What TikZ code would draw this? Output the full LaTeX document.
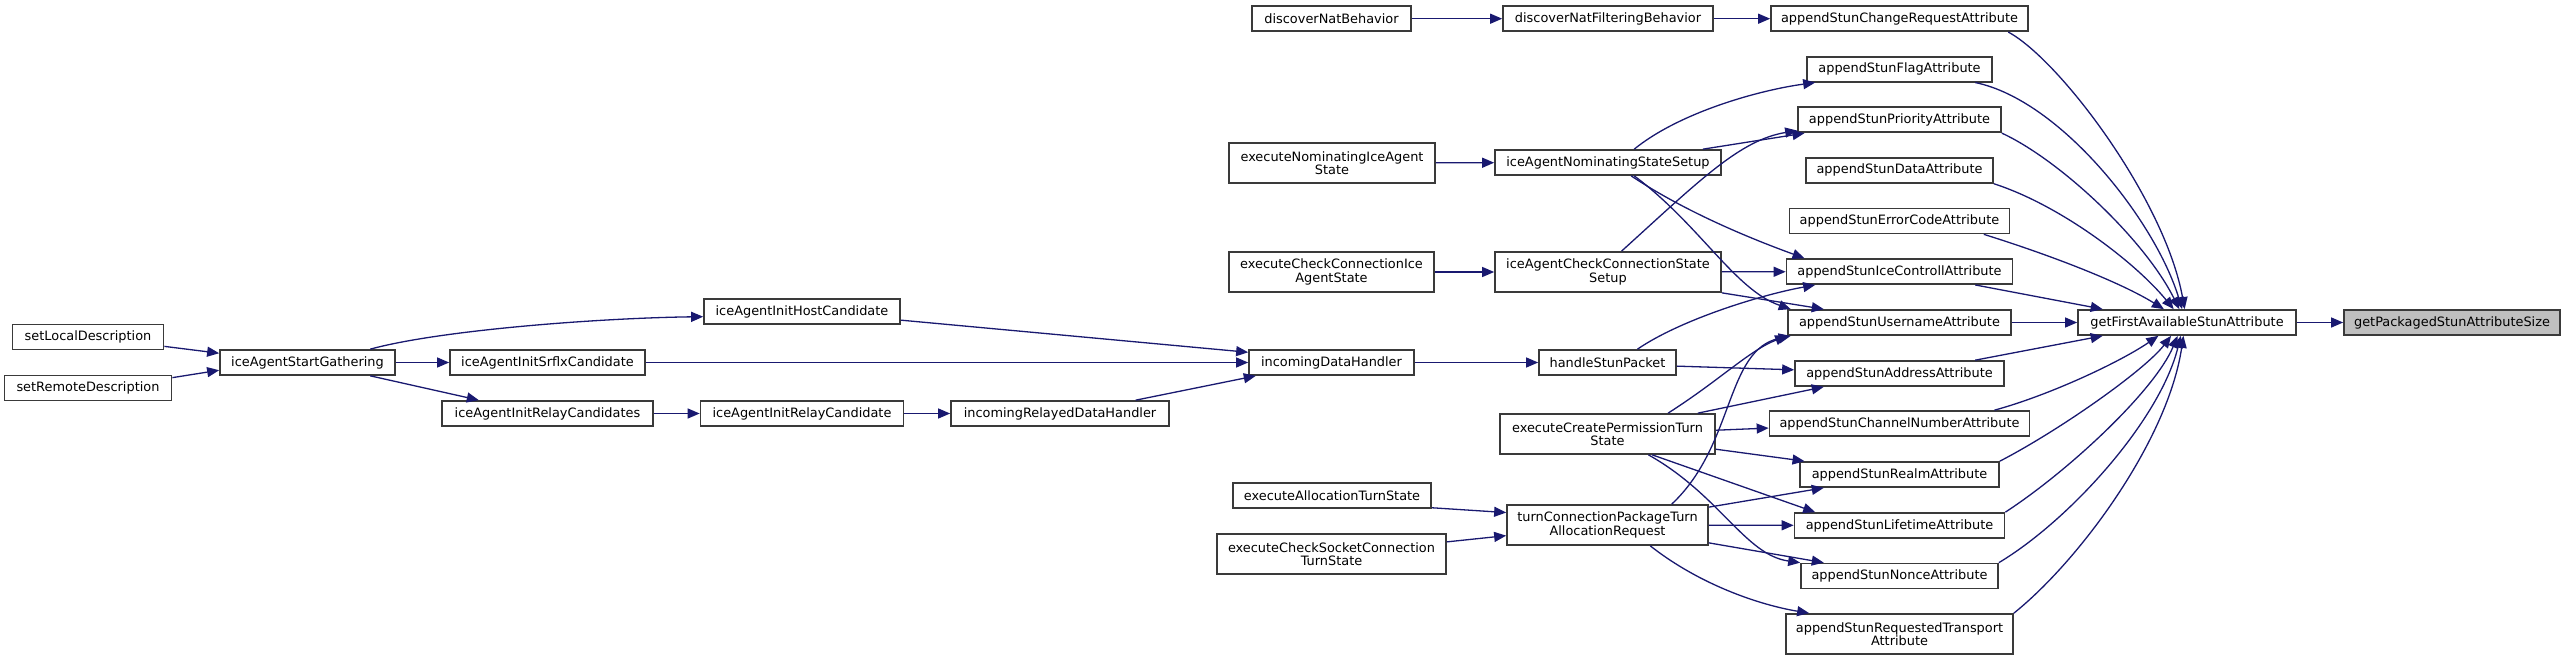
\documentclass[tikz,border=0pt]{standalone}
\usepackage{fontspec}
\setmainfont{DejaVu Sans}
\usetikzlibrary{arrows.meta}
\definecolor{navy}{HTML}{191970}
\definecolor{bord}{HTML}{3A3A3A}
\definecolor{tgt}{HTML}{BFBFBF}
\newcommand{\dgfont}{\fontsize{12.9}{13.6}\selectfont}
\begin{document}
\begin{tikzpicture}[x=1pt,y=-1pt,
  fn/.style={draw=bord, line width=1.7pt, fill=white, inner sep=0pt, align=center, font=\dgfont, minimum height=25pt},
  fntwo/.style={fn, minimum height=40pt},
  call/.style={draw=navy, line width=1.3pt, -{Triangle[length=12pt,width=10pt]}}]
\fill[white] (0,0) rectangle (2567,661);
\useasboundingbox (0,0) rectangle (2567,661);
% column 0
\node[fn, minimum width=151pt] (sld) at (88,337) {setLocalDescription};
\node[fn, minimum width=167pt] (srd) at (88,388) {setRemoteDescription};
% column 1
\node[fn, minimum width=175pt] (iasg) at (307.5,362.5) {iceAgentStartGathering};
% column 2
\node[fn, minimum width=195pt] (iaisc) at (547.5,362.5) {iceAgentInitSrflxCandidate};
\node[fn, minimum width=211pt] (iairc) at (547.5,413.5) {iceAgentInitRelayCandidates};
% column 3
\node[fn, minimum width=196pt] (iaihc) at (802,311.5) {iceAgentInitHostCandidate};
\node[fn, minimum width=203pt] (iaircd) at (802,413.5) {iceAgentInitRelayCandidate};
% column 4
\node[fn, minimum width=218pt] (irdh) at (1060,413.5) {incomingRelayedDataHandler};
% column 5
\node[fn, minimum width=159pt] (dnb) at (1331.5,18.7) {discoverNatBehavior};
\node[fntwo, minimum width=206pt] (eniaas) at (1332,163) {executeNominatingIceAgent\\State};
\node[fntwo, minimum width=205pt] (ecciaas) at (1331.5,272) {executeCheckConnectionIce\\AgentState};
\node[fn, minimum width=165pt] (idh) at (1331.5,362.5) {incomingDataHandler};
\node[fn, minimum width=198pt] (eats) at (1332,495.5) {executeAllocationTurnState};
\node[fntwo, minimum width=229pt] (ecsctst) at (1331.5,554) {executeCheckSocketConnection\\TurnState};
% column 6
\node[fn, minimum width=210pt] (dnfb) at (1608,18.7) {discoverNatFilteringBehavior};
\node[fn, minimum width=226pt] (ians) at (1608,162.5) {iceAgentNominatingStateSetup};
\node[fntwo, minimum width=226pt] (iccss) at (1608,272) {iceAgentCheckConnectionState\\Setup};
\node[fn, minimum width=137pt] (hsp) at (1607.5,362.5) {handleStunPacket};
\node[fntwo, minimum width=215pt] (ecpts) at (1607.5,434) {executeCreatePermissionTurn\\State};
\node[fntwo, minimum width=201pt] (tcptar) at (1607.5,525) {turnConnectionPackageTurn\\AllocationRequest};
% column 7
\node[fn, minimum width=257pt] (ascr) at (1899.5,18.7) {appendStunChangeRequestAttribute};
\node[fn, minimum width=185pt] (flag) at (1899.5,69.2) {appendStunFlagAttribute};
\node[fn, minimum width=203pt] (prio) at (1899.5,119.8) {appendStunPriorityAttribute};
\node[fn, minimum width=187pt] (data) at (1899.5,170.4) {appendStunDataAttribute};
\node[fn, minimum width=220pt] (erc) at (1899.5,221) {appendStunErrorCodeAttribute};
\node[fn, minimum width=226pt] (isic) at (1899.5,271.6) {appendStunIceControllAttribute};
\node[fn, minimum width=223pt] (usn) at (1899.5,322.5) {appendStunUsernameAttribute};
\node[fn, minimum width=209pt] (addr) at (1899.5,373.5) {appendStunAddressAttribute};
\node[fn, minimum width=260pt] (chn) at (1899.5,423.5) {appendStunChannelNumberAttribute};
\node[fn, minimum width=199pt] (realm) at (1899.5,474.5) {appendStunRealmAttribute};
\node[fn, minimum width=210pt] (life) at (1899.5,525.5) {appendStunLifetimeAttribute};
\node[fn, minimum width=197pt] (nonce) at (1899.5,576) {appendStunNonceAttribute};
\node[fntwo, minimum width=227pt] (rta) at (1899.5,634) {appendStunRequestedTransport\\Attribute};
% column 8, 9
\node[fn, minimum width=218pt] (gfa) at (2187,322.5) {getFirstAvailableStunAttribute};
\node[fn, minimum width=216pt, fill=tgt] (gpsas) at (2452,322.5) {getPackagedStunAttributeSize};

% edges, left part
\draw[call] (sld.-7) -- (iasg.174);
\draw[call] (srd.7) -- (iasg.185);
\draw[call] (iasg.12) .. controls (440,330) and (600,318) .. (iaihc.183);
\draw[call] (iasg) -- (iaisc);
\draw[call] (iasg.-12) -- (iairc.169);
\draw[call] (iaihc.-5) -- (idh.173);
\draw[call] (iaisc) -- (idh);
\draw[call] (iairc) -- (iaircd);
\draw[call] (iaircd) -- (irdh);
\draw[call] (irdh.10) -- (idh.190);
\draw[call] (idh) -- (hsp);
\draw[call] (dnb) -- (dnfb);
\draw[call] (dnfb) -- (ascr);
\draw[call] (eniaas) -- (ians);
\draw[call] (ecciaas) -- (iccss);
\draw[call] (eats.-7) -- (tcptar.173);
\draw[call] (ecsctst.6) -- (tcptar.186);

% edges into the append column
\draw[call] (ians.27) .. controls (1680,112) and (1760,90) .. (flag.189);
\draw[call] (ians.8) -- (prio.188);
\draw[call] (ians.-30) .. controls (1690,215) and (1760,242) .. (isic.172);
\draw[call] (ians.-27) .. controls (1700,225) and (1735,290) .. (usn.173);
\draw[call] (iccss.57) .. controls (1700,180) and (1740,140) .. (prio.186);
\draw[call] (iccss) -- (isic);
\draw[call] (iccss.south east) -- (usn.170);
\draw[call] (hsp.24) .. controls (1680,320) and (1760,295) .. (isic.189);
\draw[call] (hsp.-3) -- (addr.178);
\draw[call] (ecpts.19) .. controls (1720,380) and (1750,350) .. (usn.south west);
\draw[call] (ecpts.13) -- (addr.190);
\draw[call] (ecpts.2) -- (chn.182);
\draw[call] (ecpts.-8) -- (realm.172);
\draw[call] (ecpts.-25) -- (life.171);
\draw[call] (ecpts.-27) .. controls (1720,495) and (1745,555) .. (nonce.north west);
\draw[call] (tcptar.18) .. controls (1735,445) and (1725,350) .. (usn.187);
\draw[call] (tcptar.10) -- (realm.190);
\draw[call] (tcptar) -- (life);
\draw[call] (tcptar.-10) -- (nonce.170);
\draw[call] (tcptar.-26) .. controls (1700,585) and (1760,605) .. (rta.167);

% edges into getFirstAvailableStunAttribute
\draw[call] (ascr.-7) .. controls (2060,60) and (2165,200) .. (gfa.100);
\draw[call] (flag.-10) .. controls (2060,100) and (2155,220) .. (gfa.110);
\draw[call] (prio.south east) .. controls (2060,160) and (2145,240) .. (gfa.120);
\draw[call] (data.south east) .. controls (2060,205) and (2135,262) .. (gfa.135);
\draw[call] (erc.-9) .. controls (2050,255) and (2120,282) .. (gfa.150);
\draw[call] (isic.-10) -- (gfa.171);
\draw[call] (usn) -- (gfa);
\draw[call] (addr.10) -- (gfa.189);
\draw[call] (chn.8) .. controls (2050,395) and (2120,362) .. (gfa.205);
\draw[call] (realm.north east) .. controls (2060,430) and (2145,370) .. (gfa.220);
\draw[call] (life.north east) .. controls (2070,470) and (2155,390) .. (gfa.235);
\draw[call] (nonce.north east) .. controls (2070,520) and (2160,420) .. (gfa.245);
\draw[call] (rta.north east) .. controls (2080,560) and (2168,440) .. (gfa.255);
\draw[call] (gfa) -- (gpsas);
\end{tikzpicture}
\end{document}
